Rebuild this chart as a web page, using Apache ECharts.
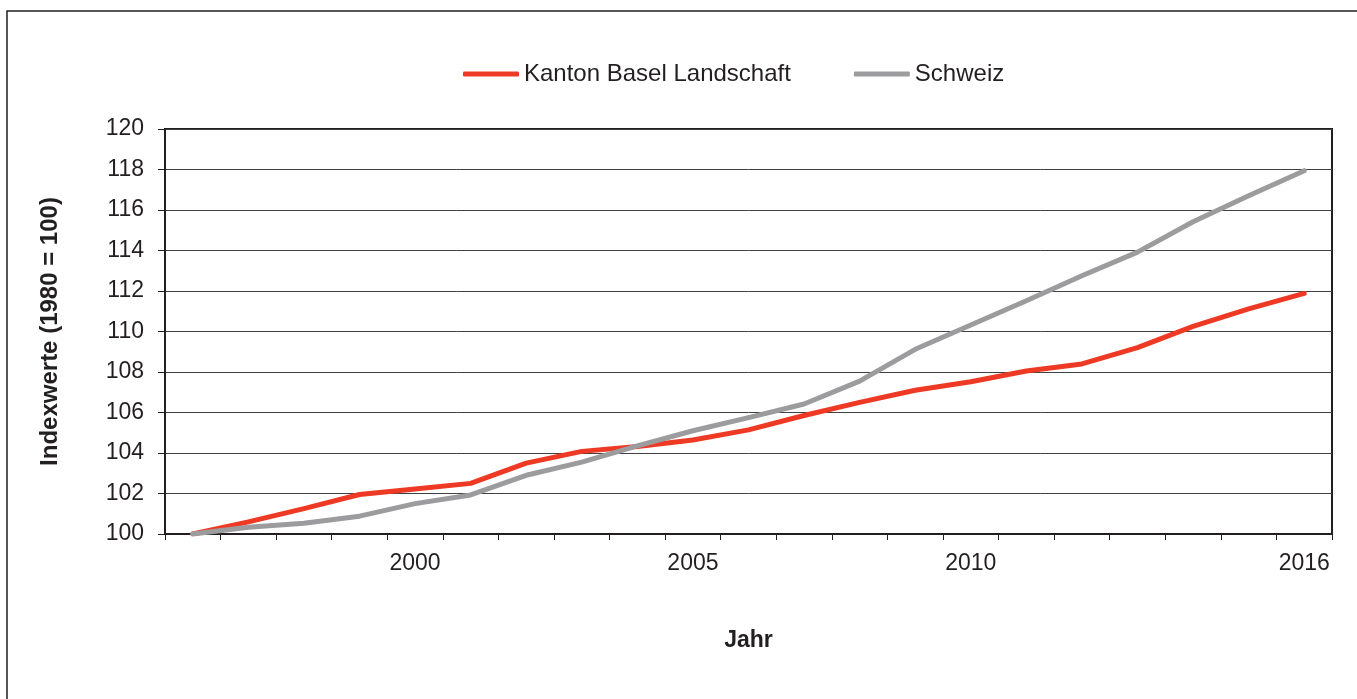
<!DOCTYPE html>
<html>
<head>
<meta charset="utf-8">
<title>Bevölkerungsentwicklung</title>
<script src="https://cdn.jsdelivr.net/npm/echarts@6/dist/echarts.min.js"></script>
<style>
  html, body { margin: 0; padding: 0; background: #ffffff; }
  #chart { width: 1357px; height: 699px; }
</style>
</head>
<body>
<div id="chart"></div>
<script>
// Jahre (Kategorien der x-Achse)
const years = ['1996', '1997', '1998', '1999', '2000', '2001', '2002', '2003', '2004', '2005',
               '2006', '2007', '2008', '2009', '2010', '2011', '2012', '2013', '2014', '2015', '2016'];
// Jahre mit Beschriftung
const labelledYears = ['2000', '2005', '2010', '2016'];

// Indexwerte
const baselLandschaft = [100.0, 100.6, 101.25, 101.95, 102.22, 102.5, 103.5, 104.08, 104.32, 104.64,
                         105.14, 105.85, 106.5, 107.1, 107.52, 108.05, 108.4, 109.2, 110.25, 111.12, 111.88];
const schweiz = [100.0, 100.33, 100.53, 100.88, 101.5, 101.93, 102.9, 103.55, 104.35, 105.1,
                 105.75, 106.42, 107.55, 109.12, 110.32, 111.52, 112.75, 113.92, 115.42, 116.7, 117.94];

const seriesNames = ['Kanton Basel Landschaft', 'Schweiz'];

const ink = '#231f20';
const font = '"Liberation Sans", Arial, Helvetica, sans-serif';

const chart = echarts.init(document.getElementById('chart'), null, { renderer: 'canvas' });

chart.setOption({
  animation: false,
  backgroundColor: '#ffffff',
  textStyle: { fontFamily: font, color: ink },
  graphic: [{
    type: 'rect',
    shape: { x: 7, y: 11, width: 1400, height: 800 },
    style: { fill: 'none', stroke: ink, lineWidth: 1.5 },
    silent: true
  }],
  legend: {
    top: 57,
    left: 458,
    itemWidth: 56,
    itemHeight: 5,
    itemGap: 63,
    icon: 'roundRect',
    textStyle: { fontFamily: font, fontSize: 24, color: ink },
    data: seriesNames
  },
  grid: {
    left: 165, right: 25, top: 129, bottom: 165,
    show: true,
    borderColor: ink,
    borderWidth: 2,
    containLabel: false
  },
  xAxis: {
    type: 'category',
    data: years,
    boundaryGap: true,
    name: 'Jahr',
    nameLocation: 'middle',
    nameGap: 95,
    nameTextStyle: { fontFamily: font, fontSize: 23, fontWeight: 'bold', color: ink },
    axisLine: { lineStyle: { color: ink, width: 2 } },
    axisTick: { show: true, interval: 0, length: 6, inside: false, lineStyle: { color: ink, width: 1 } },
    axisLabel: {
      interval: 0,
      margin: 18,
      fontFamily: font,
      fontSize: 23,
      color: ink,
      formatter: v => (labelledYears.indexOf(v) >= 0 ? v : '')
    },
    splitLine: { show: false }
  },
  yAxis: {
    type: 'value',
    min: 100,
    max: 120,
    interval: 2,
    name: 'Indexwerte (1980 = 100)',
    nameLocation: 'middle',
    nameRotate: 90,
    nameGap: 103,
    nameTextStyle: { fontFamily: font, fontSize: 24, fontWeight: 'bold', color: ink },
    axisLine: { show: true, lineStyle: { color: ink, width: 2 } },
    axisTick: { show: true, length: 7, lineStyle: { color: ink, width: 1 } },
    axisLabel: { margin: 21, fontFamily: font, fontSize: 23, color: ink },
    splitLine: { show: true, lineStyle: { color: '#404040', width: 1 } }
  },
  series: [
    {
      name: seriesNames[0],
      type: 'line',
      data: baselLandschaft,
      symbol: 'none',
      color: '#ee3a24',
      lineStyle: { color: '#ee3a24', width: 5, cap: 'round', join: 'round' }
    },
    {
      name: seriesNames[1],
      type: 'line',
      data: schweiz,
      symbol: 'none',
      color: '#9c9c9e',
      lineStyle: { color: '#9c9c9e', width: 5, cap: 'round', join: 'round' }
    }
  ]
});
</script>
</body>
</html>
